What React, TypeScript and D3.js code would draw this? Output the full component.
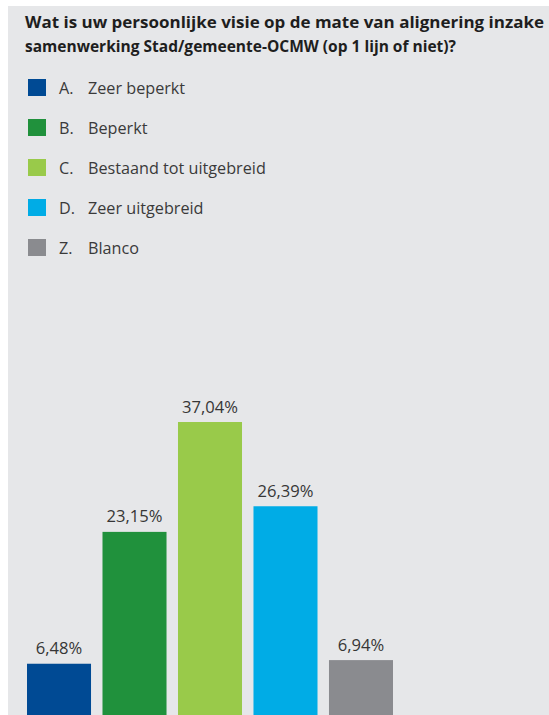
import React from "react";
import * as d3 from "d3";

const titleLines = [
  "Wat is uw persoonlijke visie op de mate van alignering inzake",
  "samenwerking Stad/gemeente-OCMW (op 1 lijn of niet)?",
];
const titleWidths = [519, 431];
const codes = ["A.", "B.", "C.", "D.", "Z."];
const categories = ["Zeer beperkt", "Beperkt", "Bestaand tot uitgebreid", "Zeer uitgebreid", "Blanco"];
const values = [6.48, 23.15, 37.04, 26.39, 6.94];
const colors = ["#004a94", "#20913c", "#99ca4a", "#00ace6", "#8a8b8f"];

const W = 549;
const H = 715;
const FONT = "'Open Sans', 'Noto Sans', sans-serif";

export default function App() {
  const x = d3
    .scaleBand<string>()
    .domain(categories)
    .range([27, 393])
    .paddingInner(0.152)
    .paddingOuter(0);
  const y = d3.scaleLinear().domain([0, 40]).range([715, 398.6]);
  const fmt = (v: number) => d3.format(".2f")(v).replace(".", ",") + "%";

  return (
    <svg
      width={W}
      height={H}
      style={{ position: "absolute", left: 0, top: 0, display: "block" }}
      fontFamily={FONT}
    >
      <rect x={8} y={6} width={W - 8} height={H - 6} fill="#e6e7e9" />
      {titleLines.map((t, i) => (
        <text
          key={i}
          x={25}
          y={28 + i * 24}
          fontSize={16}
          fontWeight={700}
          fill="#1e1e1e"
          textLength={titleWidths[i]}
          lengthAdjust="spacingAndGlyphs"
        >
          {t}
        </text>
      ))}
      {categories.map((c, i) => (
        <g key={c} transform={`translate(0, ${79 + i * 40})`}>
          <rect x={28} y={0} width={18} height={17} fill={colors[i]} />
          <text x={59} y={15} fontSize={16.2} fill="#3a3a3a">
            {codes[i]}
          </text>
          <text x={88} y={15} fontSize={16.2} fill="#3a3a3a">
            {c}
          </text>
        </g>
      ))}
      {categories.map((c, i) => (
        <g key={"b" + c}>
          <rect
            x={x(c)}
            y={y(values[i])}
            width={x.bandwidth()}
            height={y(0) - y(values[i])}
            fill={colors[i]}
          />
          <text
            x={(x(c) as number) + x.bandwidth() / 2}
            y={y(values[i]) - 9.5}
            textAnchor="middle"
            fontSize={16.6}
            fill="#363636"
          >
            {fmt(values[i])}
          </text>
        </g>
      ))}
    </svg>
  );
}
